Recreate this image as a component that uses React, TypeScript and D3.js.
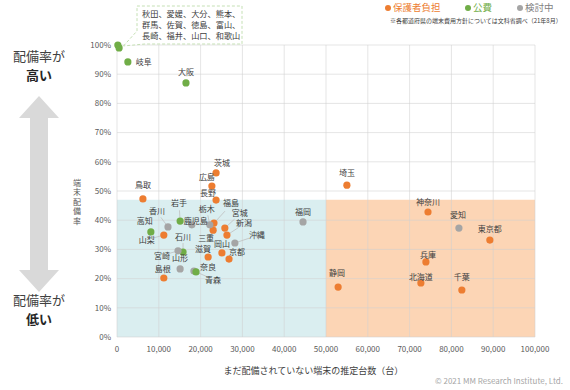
import * as d3 from 'd3';

// 都道府県ごとの値（x: まだ配備されていない端末の推定台数, y: 端末配備率 %）
const names = [
  '茨城', '広島', '長野', '鳥取', '福島', '三重', '宮城', '新潟', '栃木', '沖縄',
  '岡山', '京都', '滋賀', '岩手', '香川', '鹿児島', '高知', '山梨', '石川', '宮崎',
  '山形', '奈良', '青森', '島根', '岐阜', '大阪', '福岡', '埼玉', '神奈川', '愛知',
  '東京都', '兵庫', '静岡', '北海道', '千葉',
];
const unassigned = [
  23700, 22700, 23700, 6200, 23200, 23000, 25800, 26300, 22200, 28200,
  25100, 26800, 21800, 15100, 12200, 17900, 8100, 11200, 15800, 14600,
  15100, 18400, 18900, 11200, 2600, 16500, 44500, 55000, 74400, 81800,
  89200, 73900, 52900, 72700, 82500,
];
const rate = [
  56.2, 51.7, 46.9, 47.3, 39.0, 36.6, 37.3, 34.9, 38.4, 32.2,
  28.8, 26.7, 27.4, 39.7, 37.7, 38.4, 36.0, 34.9, 29.1, 29.5,
  23.3, 22.6, 22.3, 20.2, 94.2, 87.0, 39.4, 52.0, 42.8, 37.3,
  33.2, 25.7, 17.1, 18.5, 16.1,
];
// 0 = 保護者負担, 1 = 公費, 2 = 検討中
const policy = [
  0, 0, 0, 0, 0, 0, 0, 0, 2, 2,
  0, 0, 0, 1, 2, 2, 1, 0, 1, 2,
  2, 2, 1, 0, 1, 1, 2, 0, 0, 2,
  0, 0, 0, 0, 0,
];

// 配備率ほぼ100%の県（吹き出し）
const fullNames = ['秋田、愛媛、大分、熊本、', '群馬、佐賀、徳島、富山、', '長崎、福井、山口、和歌山'];
const fullX = [200, 500];
const fullY = [100, 99];

const legendLabels = ['保護者負担', '公費', '検討中'];
const xTicks = d3.range(0, 100001, 10000);
const yTicks = d3.range(0, 101, 10);

// ラベル位置（点からのずれ, px）
const labelDx = [
  6, -5, -8, 0, 17, -7, 15, 17, -3, 22,
  0, 8, -5, -1, -11, 4, -6, -17, 0, -16,
  0, 14, 17, -1, 8, 0, 0, 0, 0, -1,
  0, 2, -1, 0, 0,
];
const labelDy = [
  -10, -9, -7, -14, -20, 8, -15, -12, -16, -8,
  -9, -7, -8, -18, -16, -4, -11, 5, -15, 5,
  -11, -4, 8, -9, 0, -11, -10, -12, -10, -13,
  -11, -7, -14, -6, -13,
];

const colors = ['#ED7D31', '#70AD47', '#A5A5A5'];
const font = '"Noto Sans CJK JP", "Noto Sans", sans-serif';

export default function App() {
  const width = 570;
  const height = 390;
  const x = d3.scaleLinear().domain([0, 100000]).range([117, 535]);
  const y = d3.scaleLinear().domain([0, 100]).range([337, 45]);
  const fmt = d3.format(',');

  const arrow = d3.path();
  const ax = 39;
  arrow.moveTo(ax, 96);
  arrow.lineTo(ax + 20, 118);
  arrow.lineTo(ax + 9, 118);
  arrow.lineTo(ax + 9, 270);
  arrow.lineTo(ax + 20, 270);
  arrow.lineTo(ax, 292);
  arrow.lineTo(ax - 20, 270);
  arrow.lineTo(ax - 9, 270);
  arrow.lineTo(ax - 9, 118);
  arrow.lineTo(ax - 20, 118);
  arrow.closePath();

  return (
    <svg
      width={width}
      height={height}
      viewBox={`0 0 ${width} ${height}`}
      style={{ position: 'absolute', left: 0, top: 0, fontFamily: font, background: '#fff' }}
    >
      {/* 背景の区分 */}
      <rect x={x(0)} y={y(47)} width={x(50000) - x(0)} height={y(0) - y(47)} fill="#DAEEF0" />
      <rect x={x(50000)} y={y(47)} width={x(100000) - x(50000)} height={y(0) - y(47)} fill="#FCD5B5" />

      {/* グリッド */}
      {xTicks.map((t) => (
        <line key={'gx' + t} x1={x(t)} x2={x(t)} y1={y(100)} y2={y(0)} stroke="#D0D0D0" strokeOpacity={0.7} strokeWidth={0.8} />
      ))}
      {yTicks.map((t) => (
        <line key={'gy' + t} x1={x(0)} x2={x(100000)} y1={y(t)} y2={y(t)} stroke="#D0D0D0" strokeOpacity={0.7} strokeWidth={0.8} />
      ))}

      {/* 目盛ラベル */}
      {yTicks.map((t) => (
        <text key={'ty' + t} x={x(0) - 6} y={y(t)} dy="0.35em" textAnchor="end" fontSize={8} fill="#595959">
          {t}%
        </text>
      ))}
      {xTicks.map((t) => (
        <text key={'tx' + t} x={x(t)} y={y(0) + 12} dy="0.35em" textAnchor="middle" fontSize={8} fill="#595959">
          {fmt(t)}
        </text>
      ))}

      {/* 軸タイトル */}
      <text x={x(47000)} y={374} textAnchor="middle" fontSize={9} fill="#404040">
        まだ配備されていない端末の推定台数（台）
      </text>
      {'端末配備率'.split('').map((c, i) => (
        <text key={'yt' + i} x={77} y={183 + i * 9.5} dy="0.35em" textAnchor="middle" fontSize={8} fill="#595959">
          {c}
        </text>
      ))}

      {/* 左の矢印 */}
      <path d={arrow.toString()} fill="#D9D9D9" />
      <text x={ax} y={61} textAnchor="middle" fontSize={13} fill="#404040">配備率が</text>
      <text x={ax} y={80} textAnchor="middle" fontSize={13} fontWeight="bold" fill="#262626">高い</text>
      <text x={ax} y={305} textAnchor="middle" fontSize={13} fill="#404040">配備率が</text>
      <text x={ax} y={324} textAnchor="middle" fontSize={13} fontWeight="bold" fill="#262626">低い</text>

      {/* 吹き出し */}
      <path
        d={`M${x(600) + 4},${y(99) - 2} L137,31 L137,6 L242,6 L242,44 L145,44 Z`}
        fill="#fff"
        stroke="#C5E0B4"
        strokeWidth={1}
        strokeDasharray="3 2"
      />
      {fullNames.map((s, i) => (
        <text key={'fn' + i} x={142} y={14 + i * 11} dy="0.35em" fontSize={8.2} fill="#404040">
          {s}
        </text>
      ))}
      {fullX.map((v, i) => (
        <circle key={'fp' + i} cx={x(v)} cy={y(fullY[i])} r={3.6} fill={colors[1]} />
      ))}

      {/* 引き出し線 */}
      {names.map((n, i) => {
        const dist = Math.hypot(labelDx[i], labelDy[i]);
        if (dist < 15) return null;
        const px = x(unassigned[i]);
        const py = y(rate[i]);
        return (
          <line
            key={'ld' + n}
            x1={px}
            y1={py}
            x2={px + labelDx[i] * 0.65}
            y2={py + labelDy[i] * 0.6}
            stroke="#BFBFBF"
            strokeWidth={0.8}
          />
        );
      })}

      {/* 点 */}
      {names.map((n, i) => (
        <circle key={'p' + n} cx={x(unassigned[i])} cy={y(rate[i])} r={3.6} fill={colors[policy[i]]} />
      ))}

      {/* 県名 */}
      {names.map((n, i) => (
        <text
          key={'l' + n}
          x={x(unassigned[i]) + labelDx[i]}
          y={y(rate[i]) + labelDy[i]}
          dy="0.35em"
          textAnchor={n === '岐阜' ? 'start' : 'middle'}
          fontSize={8}
          fill="#404040"
        >
          {n}
        </text>
      ))}

      {/* 凡例 */}
      {legendLabels.map((s, i) => {
        const lx = [385, 465, 517][i];
        return (
          <g key={'lg' + i}>
            <circle cx={lx + 3} cy={8} r={3} fill={colors[i]} />
            <text x={lx + 8} y={8} dy="0.35em" fontSize={9.5} fill={colors[i] === '#A5A5A5' ? '#7F7F7F' : colors[i]}>
              {s}
            </text>
          </g>
        );
      })}
      <text x={390} y={21} dy="0.35em" fontSize={6} fill="#404040">
        ※各都道府県の端末費用方針については文科省調べ（21年8月）
      </text>

      <text x={563} y={381} dy="0.35em" textAnchor="end" fontSize={8} fill="#A6A6A6">
        © 2021 MM Research Institute, Ltd.
      </text>
    </svg>
  );
}
